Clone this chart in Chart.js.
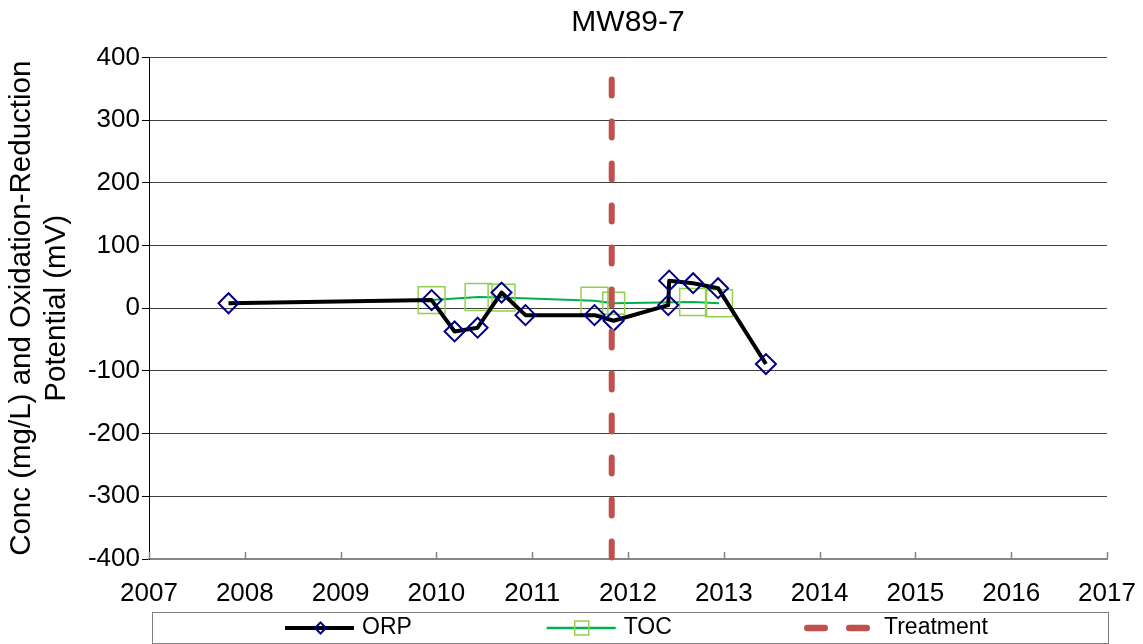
<!DOCTYPE html>
<html>
<head>
<meta charset="utf-8">
<script src="https://cdn.jsdelivr.net/npm/chart.js@4.4.1/dist/chart.umd.min.js"></script>
<style>
  html, body { margin: 0; padding: 0; background: #fff; }
  canvas { display: block; }
</style>
</head>
<body>
<canvas id="grafico" width="1143" height="644"></canvas>
<script>
// dados
const orpDatas = [2007.83, 2009.95, 2010.19, 2010.43, 2010.68, 2010.93, 2011.65, 2011.85, 2012.42, 2012.43, 2012.68, 2012.94, 2013.44];
const orpValores = [8, 13, -37, -31, 25, -11, -11, -20, 5, 44, 40, 32, -89];

const tocDatas = [2009.95, 2010.44, 2010.68, 2011.65, 2011.85, 2012.68, 2012.95];
const tocValores = [13, 18, 17, 12, 8, 10, 8];

const tratamentoData = 2011.83;
const tratamentoFaixa = [365, -400];

const anosTicks = [2007, 2008, 2009, 2010, 2011, 2012, 2013, 2014, 2015, 2016, 2017];
const valoresTicks = [-400, -300, -200, -100, 0, 100, 200, 300, 400];

const FONTE = "'Liberation Sans', Arial, sans-serif";
const tocRaios = [19, 19, 19, 19, 15.5, 19, 19];

// ticks do eixo X apontando para dentro
const ticksInternos = {
  id: 'ticksInternos',
  beforeDatasetsDraw(chart) {
    const { ctx, scales: { x }, chartArea } = chart;
    ctx.save();
    ctx.strokeStyle = '#868686';
    ctx.lineWidth = 1.5;
    anosTicks.forEach(ano => {
      const px = Math.round(x.getPixelForValue(ano)) + 0.5;
      ctx.beginPath();
      ctx.moveTo(px, chartArea.bottom);
      ctx.lineTo(px, chartArea.bottom - 7);
      ctx.stroke();
    });
    ctx.restore();
  }
};

// legenda desenhada a mao (linha + marcador)
const legendaCaixa = {
  id: 'legendaCaixa',
  afterDraw(chart) {
    const ctx = chart.ctx;
    const y = 628;
    ctx.save();
    ctx.strokeStyle = '#808080';
    ctx.lineWidth = 1;
    ctx.strokeRect(152.5, 612.5, 956, 31);

    ctx.font = `23px ${FONTE}`;
    ctx.textBaseline = 'middle';
    ctx.fillStyle = '#000';

    // ORP
    let x = 285;
    ctx.strokeStyle = '#000';
    ctx.lineWidth = 4;
    ctx.beginPath(); ctx.moveTo(x, y); ctx.lineTo(x + 69, y); ctx.stroke();
    ctx.strokeStyle = '#000080';
    ctx.lineWidth = 2;
    const cx = x + 35.5, r = 5.5;
    ctx.beginPath();
    ctx.moveTo(cx - r, y); ctx.lineTo(cx, y - r); ctx.lineTo(cx + r, y); ctx.lineTo(cx, y + r);
    ctx.closePath(); ctx.stroke();
    ctx.fillText('ORP', x + 77, y);

    // TOC
    x = 546.7;
    ctx.strokeStyle = '#00B050';
    ctx.lineWidth = 2.5;
    ctx.beginPath(); ctx.moveTo(x, y); ctx.lineTo(x + 69, y); ctx.stroke();
    ctx.strokeStyle = '#92D050';
    ctx.lineWidth = 1.5;
    ctx.strokeRect(x + 35 - 7, y - 7, 14, 14);
    ctx.fillText('TOC', x + 77, y);

    // Treatment
    x = 804;
    ctx.strokeStyle = '#C0504D';
    ctx.lineWidth = 6.5;
    ctx.lineCap = 'round';
    ctx.setLineDash([17.5, 24.5]);
    ctx.beginPath(); ctx.moveTo(x + 3.25, y); ctx.lineTo(x + 62.75, y); ctx.stroke();
    ctx.setLineDash([]);
    ctx.fillText('Treatment', x + 80, y);
    ctx.restore();
  }
};

const ctx = document.getElementById('grafico').getContext('2d');
new Chart(ctx, {
  type: 'line',
  data: {
    datasets: [{
      label: 'Treatment',
      xAxisID: 'x',
      yAxisID: 'y',
      data: tratamentoFaixa.map(v => ({ x: tratamentoData, y: v })),
      borderColor: '#C0504D',
      borderWidth: 6,
      borderDash: [16, 26],
      borderCapStyle: 'round',
      pointRadius: 0,
      clip: false
    }, {
      label: 'ORP',
      xAxisID: 'x',
      yAxisID: 'y',
      data: orpDatas.map((d, i) => ({ x: d, y: orpValores[i] })),
      borderColor: '#000',
      borderWidth: 4,
      borderJoinStyle: 'round',
      pointStyle: 'rectRot',
      pointRadius: 10,
      pointBorderColor: '#000080',
      pointBorderWidth: 2,
      pointBackgroundColor: 'rgba(0,0,0,0)',
      tension: 0
    }, {
      label: 'TOC',
      xAxisID: 'x',
      yAxisID: 'y',
      data: tocDatas.map((d, i) => ({ x: d, y: tocValores[i] })),
      borderColor: '#00B050',
      borderWidth: 2,
      pointStyle: 'rect',
      pointRadius: tocRaios,
      pointBorderColor: '#92D050',
      pointBorderWidth: 1.5,
      pointBackgroundColor: 'rgba(0,0,0,0)',
      tension: 0
    }]
  },
  options: {
    responsive: false,
    animation: false,
    devicePixelRatio: 1,
    layout: { autoPadding: false, padding: { left: 0, right: 36, top: 0, bottom: 35 } },
    plugins: {
      legend: { display: false },
      tooltip: { enabled: false },
      title: { display: false }
    },
    scales: {
      x: {
        type: 'linear',
        min: anosTicks[0],
        max: anosTicks[anosTicks.length - 1],
        afterBuildTicks: scale => { scale.ticks = anosTicks.map(v => ({ value: v })); },
        afterFit: scale => {
          scale.height = 50;
          scale.paddingLeft = 0;
          scale.paddingRight = 0;
        },
        grid: { display: false, drawTicks: false },
        border: { display: true, color: '#868686', width: 2 },
        ticks: {
          color: '#000',
          padding: 19,
          maxRotation: 0,
          font: { family: FONTE, size: 26 },
          callback: v => String(v)
        }
      },
      y: {
        min: valoresTicks[0],
        max: valoresTicks[valoresTicks.length - 1],
        afterBuildTicks: scale => { scale.ticks = valoresTicks.map(v => ({ value: v })); },
        afterFit: scale => { scale.width = 149; },
        grid: { color: '#404040', lineWidth: 1, tickColor: '#000', tickLength: 7 },
        border: { display: true, color: '#000', width: 1 },
        ticks: {
          color: '#000',
          padding: 2,
          font: { family: FONTE, size: 26 }
        },
        title: {
          display: true,
          text: ['Conc (mg/L) and Oxidation-Reduction', 'Potential (mV)'],
          color: '#000',
          font: { family: FONTE, size: 29.5, lineHeight: 1.2 },
          padding: { top: 4, bottom: 0 }
        }
      },
      // eixo superior so para o titulo, centrado na area do grafico
      topo: {
        type: 'linear',
        position: 'top',
        display: true,
        min: 0,
        max: 1,
        afterFit: scale => {
          scale.height = 57.5;
          scale.paddingLeft = 0;
          scale.paddingRight = 0;
        },
        grid: { display: false, drawTicks: false },
        border: { display: false },
        ticks: { display: false },
        title: {
          display: true,
          text: 'MW89-7',
          color: '#000',
          font: { family: FONTE, size: 30, lineHeight: 1.2 },
          padding: { top: 5, bottom: 0 }
        }
      }
    }
  },
  plugins: [ticksInternos, legendaCaixa]
});
</script>
</body>
</html>
